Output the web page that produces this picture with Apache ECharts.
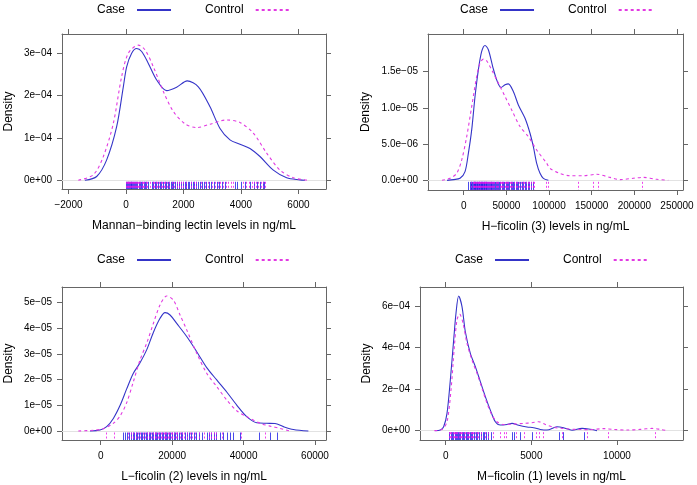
<!DOCTYPE html>
<html>
<head>
<meta charset="utf-8">
<script src="https://cdn.jsdelivr.net/npm/echarts@6/dist/echarts.min.js"></script>
<style>html,body{margin:0;padding:0;background:#fff}#c{width:697px;height:485px}</style>
</head>
<body>
<div id="c"></div>
<script>
// ---------- data ----------
const groups = ["Case", "Control"];
const xTitles = ["Mannan\u2212binding lectin levels in ng/mL", "H\u2212ficolin (3) levels in ng/mL", "L\u2212ficolin (2) levels in ng/mL", "M\u2212ficolin (1) levels in ng/mL"];

const mblCase = [[-1430,0],[-1020,0.09e-4],[-672,0.48e-4],[-325,1.26e-4],[-93,2.2e-4],[23,2.67e-4],[197,2.99e-4],[371,3.1e-4],[545,3.03e-4],[777,2.75e-4],[1067,2.36e-4],[1414,2.11e-4],[1762,2.19e-4],[2130,2.34e-4],[2516,2.2e-4],[2922,1.73e-4],[3270,1.22e-4],[3617,0.95e-4],[3965,0.85e-4],[4313,0.75e-4],[4661,0.56e-4],[5125,0.24e-4],[5588,0.06e-4],[6052,0.01e-4],[6226,0]];
const mblCtrl = [[-1658,0],[-1136,0.13e-4],[-788,0.56e-4],[-441,1.34e-4],[-151,2.44e-4],[81,2.99e-4],[429,3.18e-4],[661,3.07e-4],[951,2.67e-4],[1299,2.09e-4],[1646,1.62e-4],[2052,1.33e-4],[2458,1.24e-4],[2922,1.32e-4],[3501,1.42e-4],[3965,1.36e-4],[4429,1.11e-4],[4893,0.64e-4],[5357,0.24e-4],[5820,0.06e-4],[6342,0]];
const hfCase = [[-19500,0],[-11700,0.1e-6],[-4300,0.28e-6],[1560,1.2e-6],[5470,3.73e-6],[9375,6.96e-6],[13280,11.57e-6],[17190,15.25e-6],[21090,17.79e-6],[25000,18.62e-6],[28900,18.02e-6],[33980,15.71e-6],[38670,13.87e-6],[43750,12.81e-6],[48440,13.18e-6],[52340,13.32e-6],[58200,12.26e-6],[64060,10.41e-6],[71880,8.57e-6],[77730,6.5e-6],[81640,4.65e-6],[85550,2.35e-6],[89450,0.97e-6],[93360,0.28e-6],[99200,0]];
const hfCtrl = [[-25400,0],[-16000,0.28e-6],[-8200,0.97e-6],[-2340,2.81e-6],[3520,6.04e-6],[9375,10.18e-6],[15230,14.33e-6],[19140,16.17e-6],[23050,16.73e-6],[26950,16.5e-6],[32810,15.25e-6],[40630,13.41e-6],[48440,11.57e-6],[56250,9.72e-6],[66020,7.42e-6],[75780,6.04e-6],[85550,4.19e-6],[97270,2.35e-6],[101100,1.65e-6],[112800,0.96e-6],[124500,0.63e-6],[140100,0.63e-6],[155800,0.83e-6],[171400,0.41e-6],[183100,0.1e-6],[198700,0.28e-6],[210400,0.41e-6],[226100,0.14e-6],[239700,0]];
const lfCase = [[-2990,0],[-190,0.04e-5],[1680,0.17e-5],[3550,0.49e-5],[5410,0.99e-5],[7280,1.64e-5],[9150,2.25e-5],[11020,2.66e-5],[12880,3.16e-5],[14750,3.84e-5],[16620,4.39e-5],[18020,4.61e-5],[19420,4.52e-5],[21290,4.19e-5],[24090,3.68e-5],[26890,3.09e-5],[29690,2.47e-5],[32490,1.99e-5],[35290,1.52e-5],[38090,1.01e-5],[40890,0.56e-5],[43690,0.32e-5],[46490,0.3e-5],[48820,0.29e-5],[51150,0.17e-5],[53950,0.06e-5],[58150,0]];
const lfCtrl = [[-6260,0],[-2050,0.03e-5],[750,0.09e-5],[3550,0.3e-5],[5410,0.58e-5],[7280,1.1e-5],[9150,1.92e-5],[11020,2.77e-5],[12880,3.42e-5],[14750,4.19e-5],[16620,4.91e-5],[18490,5.26e-5],[20350,5.1e-5],[22220,4.52e-5],[24090,3.94e-5],[26890,3.03e-5],[29690,2.25e-5],[32490,1.73e-5],[35290,1.21e-5],[38090,0.79e-5],[40890,0.56e-5],[44620,0.3e-5],[47420,0.19e-5],[50220,0.1e-5],[53020,0]];
const mfCase = [[-603,0],[-311,0.03e-4],[-117,0.19e-4],[78,0.83e-4],[272,2.44e-4],[467,4.36e-4],[603,5.65e-4],[759,6.48e-4],[953,5.97e-4],[1148,4.76e-4],[1440,3.72e-4],[1732,3.08e-4],[2023,2.36e-4],[2315,1.64e-4],[2607,0.99e-4],[2899,0.43e-4],[3191,0.27e-4],[3580,0.3e-4],[3872,0.35e-4],[4261,0.26e-4],[4747,0.18e-4],[5136,0.14e-4],[5525,0.06e-4],[5914,0.03e-4],[6498,0.19e-4],[6887,0.14e-4],[7374,0.02e-4],[7957,0.11e-4],[8346,0.08e-4],[8833,0]];
const mfCtrl = [[-661,0],[-214,0.06e-4],[78,0.43e-4],[311,1.96e-4],[506,4.04e-4],[661,5.33e-4],[817,5.61e-4],[1012,5.17e-4],[1245,4.2e-4],[1537,3.4e-4],[1829,2.76e-4],[2121,2.04e-4],[2412,1.32e-4],[2704,0.75e-4],[2996,0.43e-4],[3385,0.3e-4],[3969,0.32e-4],[4553,0.35e-4],[5039,0.38e-4],[5428,0.43e-4],[5817,0.3e-4],[6304,0.16e-4],[6887,0.1e-4],[7665,0.06e-4],[8444,0.05e-4],[9222,0.1e-4],[9805,0.06e-4],[10580,0.03e-4],[11360,0.06e-4],[12040,0.11e-4],[12530,0.06e-4],[12920,0]];

const mblCaseObs = [10,40,70,100,130,160,190,220,260,290,320,360,400,440,480,520,570,610,650,700,760,900,950,1000,1060,1120,1170,1230,1280,1340,1400,1450,1500,1550,1600,1650,1720,1780,1850,1920,1980,2040,2100,2150,2200,2260,2320,2380,2450,2510,2570,2650,2720,2800,2880,2960,3050,3150,3250,3350,3450,3800,3850,4000,4150,4300,4450,4550,4650,4750,4800];
const mblCtrlObs = [0,30,55,85,115,145,175,205,240,275,305,340,380,420,460,500,540,590,630,680,730,850,930,980,1030,1090,1150,1210,1260,1310,1370,1430,1480,1600,1680,1760,1830,1900,2000,2080,2250,2350,2420,2600,2750,2850,3000,3100,3200,3280,3380,3480,3550,3650,3720,4080,4180,4280,4380,4450,4520,4600,4680,4750,4820];
const hfCaseObs = [5500,7000,8000,9000,10000,10800,11500,12300,13000,13800,14500,15300,16000,16800,17500,18300,19000,19800,20500,21300,22000,22800,23500,24300,25000,25800,26500,27500,28500,29500,30500,31500,32500,33500,34500,35500,36500,37500,38500,40000,41500,43000,44500,46000,47500,49000,50500,52000,53500,55000,56500,58000,59500,61000,62500,64000,66000,68000,70000,71500,73000,75000,77000,79000,81000];
const hfCtrlObs = [9000,10500,11500,12500,13500,14500,15500,16500,17500,18500,19500,20500,21500,22500,23500,24500,25500,26500,27500,28500,29500,30500,31500,33000,34500,36000,37500,39000,40500,42000,43500,45000,46500,48000,49500,51000,52500,54000,55500,57000,59000,61000,63000,65000,67000,69000,71000,73000,75000,77000,79000,81000,82500,97000,98500,134000,151000,157000,209000];
const lfCaseObs = [6200,6900,7400,8000,8500,9000,9400,9900,10300,10800,11200,11700,12100,12600,13000,13400,13900,14300,14700,15100,15500,15900,16300,16700,17100,17500,17900,18300,18700,19100,19500,19900,20400,20900,21400,21900,22400,22900,23500,24100,24700,25300,26000,26700,27500,28500,29800,30400,31000,31600,32400,33300,34300,35300,36200,37000,39000,44200,47300,49300];
const lfCtrlObs = [1500,3600,7700,8400,9100,9800,10500,11100,11800,12400,13000,13600,14100,14600,15100,15600,16000,16400,16800,17200,17600,18000,18400,18800,19200,19600,20000,20500,21000,21500,22100,22700,23400,24100,24900,25700,26500,27500,29000,30200,30800,31600,32300,34000,39200,46000];
const mfCaseObs = [220,300,380,450,520,590,650,720,790,860,930,1000,1080,1160,1240,1320,1400,1480,1560,1650,1750,1850,1950,2050,2150,2250,2350,2500,2650,3900,4000,4350,5050,6600,6850,8050];
const mfCtrlObs = [200,270,340,410,480,550,620,690,760,830,900,980,1060,1140,1220,1300,1380,1460,1540,1620,1700,1800,1900,2050,2300,2450,2750,3200,3400,3550,4100,4600,5250,5450,5700,6800,8250,9500,12200];

const xTicks = [[-2000,0,2000,4000,6000],[0,50000,100000,150000,200000,250000],[0,20000,40000,60000],[0,5000,10000]];
const xTickLabels = [["\u22122000","0","2000","4000","6000"],["0","50000","100000","150000","200000","250000"],["0","20000","40000","60000"],["0","5000","10000"]];
const yTicks = [[0,1e-4,2e-4,3e-4],[0,5e-6,1e-5,1.5e-5],[0,1e-5,2e-5,3e-5,4e-5,5e-5],[0,2e-4,4e-4,6e-4]];
const yTickLabels = [["0e+00","1e\u221204","2e\u221204","3e\u221204"],["0.0e+00","5.0e\u221206","1.0e\u221205","1.5e\u221205"],["0e+00","1e\u221205","2e\u221205","3e\u221205","4e\u221205","5e\u221205"],["0e+00","2e\u221204","4e\u221204","6e\u221204"]];

// ---------- layout ----------
const curves = [[mblCase, mblCtrl],[hfCase, hfCtrl],[lfCase, lfCtrl],[mfCase, mfCtrl]];
const rugs = [[mblCaseObs, mblCtrlObs],[hfCaseObs, hfCtrlObs],[lfCaseObs, lfCtrlObs],[mfCaseObs, mfCtrlObs]];
const grids = [
  {left:62, top:34, width:264, height:155},
  {left:428, top:34, width:255, height:156},
  {left:62, top:287, width:264, height:153},
  {left:420, top:287, width:263, height:153}
];
const xRange = [[-2226,6957],[-41842,257032],[-10826,63083],[-1498,13852]];
const yRange = [[-2.047e-5,3.442e-4],[-1.335e-6,2.020e-5],[-3.506e-6,5.61e-5],[-4.49e-5,6.914e-4]];
const yNameGap = [47, 56, 47, 47];
const legendPos = [{left:97, top:4},{left:460, top:4},{left:97, top:254},{left:455, top:254}];

const FONT = "'Liberation Sans', Arial, Helvetica, sans-serif";
const FRAME = '#666666';
const caseColor = '#3434c8';
const ctrlColor = '#e23ae2';
const caseRug = 'rgba(30,30,230,0.8)';
const ctrlRug = 'rgba(235,20,235,0.8)';

function fmt(ticks, labels) {
  return function (v) {
    let best = 0, bd = Infinity;
    ticks.forEach((t, i) => { const d = Math.abs(t - v); if (d < bd) { bd = d; best = i; } });
    return labels[best];
  };
}

const xAxis = [], yAxis = [], series = [];
grids.forEach((g, i) => {
  const tickCommon = {show:true, length:5, inside:false, lineStyle:{color:FRAME}};
  xAxis.push({
    type:'value', gridIndex:i, position:'bottom', min:xRange[i][0], max:xRange[i][1],
    axisLine:{show:true, onZero:false, lineStyle:{color:FRAME}},
    axisTick:Object.assign({customValues:xTicks[i]}, tickCommon),
    axisLabel:{customValues:xTicks[i], formatter:fmt(xTicks[i], xTickLabels[i]), color:'#000', fontFamily:FONT, fontSize:10, margin:11},
    splitLine:{show:false},
    name:xTitles[i], nameLocation:'middle', nameGap:31,
    nameTextStyle:{color:'#000', fontFamily:FONT, fontSize:12}
  });
  xAxis.push({
    type:'value', gridIndex:i, position:'top', min:xRange[i][0], max:xRange[i][1],
    axisLine:{show:true, onZero:false, lineStyle:{color:FRAME}},
    axisTick:Object.assign({customValues:xTicks[i]}, tickCommon),
    axisLabel:{show:false, customValues:xTicks[i]},
    splitLine:{show:false}
  });
  yAxis.push({
    type:'value', gridIndex:i, position:'left', min:yRange[i][0], max:yRange[i][1],
    axisLine:{show:true, onZero:false, lineStyle:{color:FRAME}},
    axisTick:Object.assign({customValues:yTicks[i]}, tickCommon),
    axisLabel:{customValues:yTicks[i], formatter:fmt(yTicks[i], yTickLabels[i]), color:'#000', fontFamily:FONT, fontSize:10, margin:10},
    splitLine:{show:false},
    name:'Density', nameLocation:'middle', nameGap:yNameGap[i], nameRotate:90,
    nameTextStyle:{color:'#000', fontFamily:FONT, fontSize:12}
  });
  yAxis.push({
    type:'value', gridIndex:i, position:'right', min:yRange[i][0], max:yRange[i][1],
    axisLine:{show:true, onZero:false, lineStyle:{color:FRAME}},
    axisTick:Object.assign({customValues:yTicks[i]}, tickCommon),
    axisLabel:{show:false, customValues:yTicks[i]},
    splitLine:{show:false}
  });

  // rugs
  [0, 1].forEach(k => {
    series.push({
      type:'custom', name:groups[k] + ' rug', xAxisIndex:2*i, yAxisIndex:2*i, silent:true,
      data:rugs[i][k].map(v => [v, 0]),
      renderItem:function (params, api) {
        const p = api.coord([api.value(0), api.value(1)]);
        const cs = params.coordSys;
        return {
          type:'line',
          shape:{x1:Math.round(p[0]) + 0.5, y1:p[1] + 1.5, x2:Math.round(p[0]) + 0.5, y2:cs.y + cs.height},
          style:{stroke:k === 0 ? caseRug : ctrlRug, lineWidth:1, lineDash:k === 0 ? null : [2, 2]}
        };
      },
      z:2
    });
  });

  // density curves
  [0, 1].forEach(k => {
    const s = {
      type:'line', name:groups[k], xAxisIndex:2*i, yAxisIndex:2*i,
      data:curves[i][k], showSymbol:false, symbol:'none', smooth:0.3,
      lineStyle:{color:k === 0 ? caseColor : ctrlColor, width:1.1, type:k === 0 ? 'solid' : [3, 3]},
      itemStyle:{color:k === 0 ? caseColor : ctrlColor},
      silent:true, z:3
    };
    if (k === 0) {
      s.markLine = {silent:true, symbol:'none', label:{show:false}, animation:false,
        lineStyle:{color:'#e2e2e2', width:1, type:'solid'}, data:[{yAxis:0}], z:1};
    }
    series.push(s);
  });
});

const legend = legendPos.map(p => ({
  left:p.left, top:p.top, orient:'horizontal', align:'right', padding:0,
  data:groups, itemWidth:34, itemHeight:12, itemGap:33, selectedMode:false,
  itemStyle:{opacity:0},
  textStyle:{color:'#000', fontFamily:FONT, fontSize:12, padding:[0, 7, 0, 0]}
}));

const chart = echarts.init(document.getElementById('c'), null, {renderer:'canvas'});
chart.setOption({
  animation:false,
  backgroundColor:'#ffffff',
  grid:grids.map(g => Object.assign({show:false, containLabel:false}, g)),
  legend:legend,
  xAxis:xAxis,
  yAxis:yAxis,
  series:series
});
</script>
</body>
</html>
